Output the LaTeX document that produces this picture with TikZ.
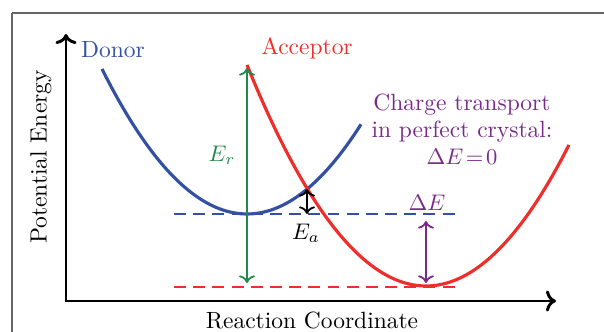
\documentclass[tikz,border=0pt]{standalone}
\usepackage{tikz}
\usetikzlibrary{arrows.meta,positioning,calc}
\definecolor{dnblue}{HTML}{3350A3}
\definecolor{acred}{HTML}{EE2E2B}
\definecolor{ergreen}{HTML}{23884A}
\definecolor{depurple}{HTML}{7A2A8A}
\definecolor{framegray}{HTML}{666666}
\tikzset{
  ax/.style={<->, line width=1.3pt, black},
  pes/.style={line width=1.4pt, smooth, samples=60},
  lvl/.style={line width=0.9pt, dash pattern=on 5.3pt off 3.2pt},
  dbl/.style={<->, line width=0.8pt},
  lbl/.style={inner sep=1pt, font=\fontsize{10.4pt}{12pt}\selectfont},
}
\begin{document}
\begin{tikzpicture}[x=0.443pt, y=-0.443pt]
  \useasboundingbox (0,0) rectangle (604,332);
  \draw[framegray, line width=0.5pt] (12,332) -- (12,13);
  \draw[framegray, line width=0.9pt] (12,13) -- (604,13);
  % axes
  \coordinate (o) at (66,301);
  \coordinate (ytop) at (66,34);
  \coordinate (xend) at (556,301);
  \draw[ax] (ytop) -- (o) -- (xend);
  \node[lbl, rotate=90] (ylab) at (41,157) {Potential Energy};
  \node[lbl] (xlab) at (312,320) {Reaction Coordinate};
  % levels
  \draw[lvl, dnblue] (174,214) -- (456,214);
  \draw[lvl, acred] (174,287) -- (456,287);
  % curves (depth 69 px per 100 px squared)
  \draw[pes, dnblue] plot[domain=102:361] (\x, {214-69*((\x-247)/100)^2});
  \draw[pes, acred] plot[domain=247:569] (\x, {286-69*((\x-426)/100)^2});
  \node[lbl, dnblue] (donor) at (113,50) {Donor};
  \node[lbl, acred] (acc) at (307,48) {Acceptor};
  % reorganisation energy
  \coordinate (ertop) at (247,68);
  \coordinate (erbot) at (247,283);
  \draw[dbl, ergreen] (ertop) -- (erbot);
  \node[lbl, ergreen] (er) at (222,155) {$E_r$};
  % activation
  \coordinate (cross) at (307,189);
  \coordinate (cbot) at (307,214);
  \draw[dbl, black] (cross) -- (cbot);
  \node[lbl] (ea) at (306,233) {$E_a$};
  % driving force
  \coordinate (detop) at (426,221);
  \coordinate (debot) at (426,283);
  \draw[dbl, depurple] (detop) -- (debot);
  \node[lbl, depurple] (de) at (427,203) {$\Delta E$};
  \node[lbl, depurple, align=center] (note) at (462,129) {Charge transport\\in perfect crystal:\\$\Delta E\!=\!0$};
\end{tikzpicture}
\end{document}
